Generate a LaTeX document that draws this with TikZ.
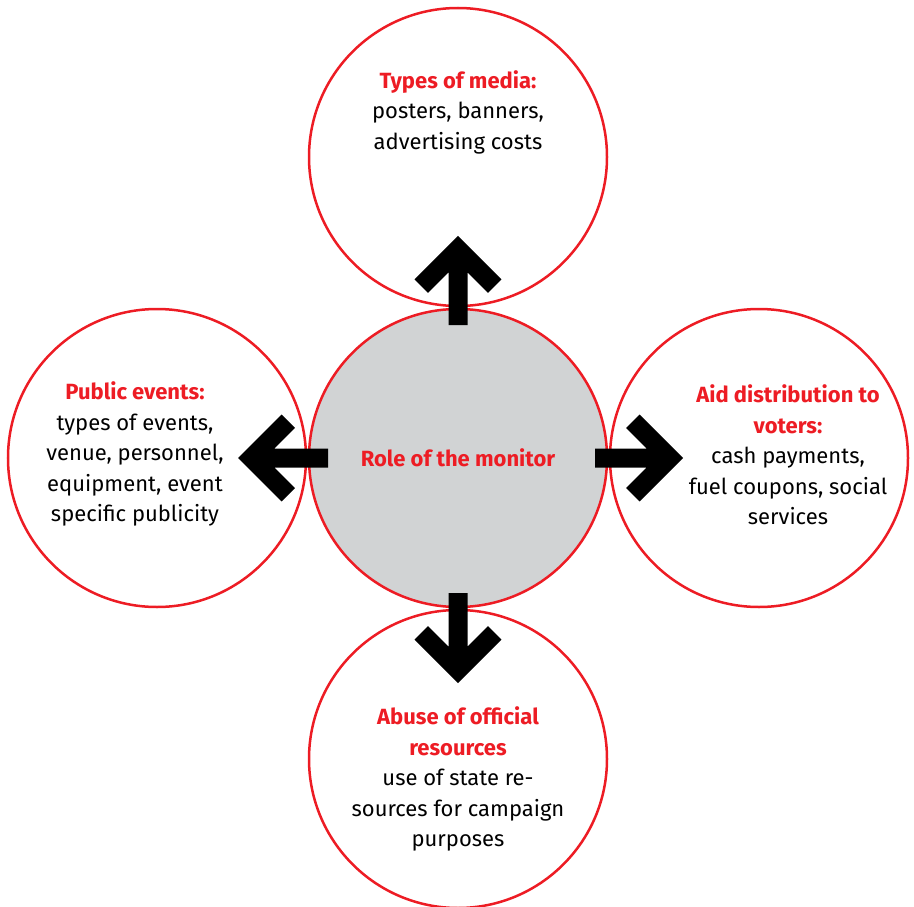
\documentclass[tikz,border=0pt]{standalone}
\usepackage{fontspec}
\setmainfont{Fira Sans}
\usepackage{xcolor}
\usepackage{tikz}
\usetikzlibrary{calc}
\usetikzlibrary{positioning}
\definecolor{MonRed}{RGB}{237, 28, 36}
\definecolor{MonGray}{RGB}{209, 211, 212}
\newcommand{\hd}[1]{\textcolor{MonRed}{\bfseries #1}}
\tikzset{
	bubble/.style={circle, draw=MonRed, line width=2.5pt, minimum size=298pt, inner sep=0pt, outer sep=0pt},
	txt/.style={align=center, font=\fontsize{22}{30.5}\selectfont},
	bigarrow/.style={line width=19pt, line join=miter,
		to path={-- (\tikztotarget) ($(\tikztotarget)!52pt!45:(\tikztostart)$) -- (\tikztotarget) -- ($(\tikztotarget)!52pt!-45:(\tikztostart)$)}},
}

\begin{document}
\begin{tikzpicture}[x=1pt, y=-1pt, node distance=3pt]
	\useasboundingbox (0,0) rectangle (914,907);
	\node[bubble, fill=MonGray] (mid) at (458,458) {};
	\node[bubble, above=of mid] (media) {};
	\node[bubble, left=of mid] (events) {};
	\node[bubble, right=of mid] (aid) {};
	\node[bubble, below=of mid] (abuse) {};

	\node[txt] (midtxt) at (mid.center) {\hd{Role of the monitor}};
	\node[txt] (mediatxt) at ([yshift=45pt]media.center) {\hd{Types of media:}\\ posters, banners,\\ advertising costs};
	\node[txt] (eventstxt) at ([xshift=-22pt, yshift=4pt]events.center) {\hd{Public events:}\\ types of events,\\ venue, personnel,\\ equipment, event\\ specific publicity};
	\node[txt] (aidtxt) at ([xshift=29pt, yshift=3pt]aid.center) {\hd{Aid distribution to}\\ \hd{voters:}\\ cash payments,\\ fuel coupons, social\\ services};
	\node[txt] (abusetxt) at ([yshift=-20pt]abuse.center) {\hd{Abuse of official}\\ \hd{resources}\\ use of state re-\\ sources for campaign\\ purposes};

	\draw[bigarrow] ([yshift=-16pt]mid.north) to ([yshift=56.6pt]media.south);
	\draw[bigarrow] ([xshift=19pt]mid.west) to ([xshift=-54.5pt]events.east);
	\draw[bigarrow] ([xshift=-12pt]mid.east) to ([xshift=59.6pt]aid.west);
	\draw[bigarrow] ([yshift=14pt]mid.south) to ([yshift=-59.6pt]abuse.north);
\end{tikzpicture}
\end{document}
